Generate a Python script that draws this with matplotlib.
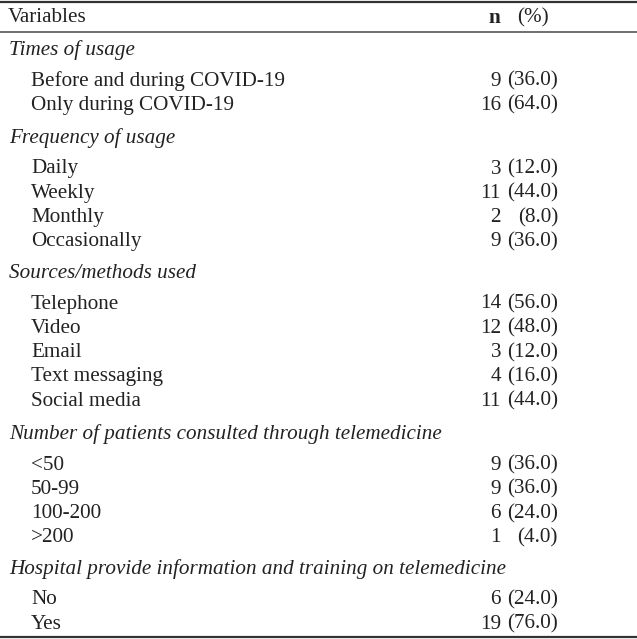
import matplotlib.pyplot as plt

# table content
sections = [
    "Times of usage",
    "Frequency of usage",
    "Sources/methods used",
    "Number of patients consulted through telemedicine",
    "Hospital provide information and training on telemedicine",
]
items = [
    ["Before and during COVID-19", "Only during COVID-19"],
    ["Daily", "Weekly", "Monthly", "Occasionally"],
    ["Telephone", "Video", "Email", "Text messaging", "Social media"],
    ["<50", "50-99", "100-200", ">200"],
    ["No", "Yes"],
]
counts = [
    [9, 16],
    [3, 11, 2, 9],
    [14, 12, 3, 4, 11],
    [9, 9, 6, 1],
    [6, 19],
]
percents = [
    [36.0, 64.0],
    [12.0, 44.0, 8.0, 36.0],
    [56.0, 48.0, 12.0, 16.0, 44.0],
    [36.0, 36.0, 24.0, 4.0],
    [24.0, 76.0],
]

W, H = 637, 639
fig = plt.figure(figsize=(W / 100, H / 100), dpi=100)
ax = fig.add_axes([0, 0, 1, 1])
ax.set_xlim(0, W)
ax.set_ylim(H, 0)
ax.axis("off")

font = "Liberation Serif"
fs = 15.2
col = "#222222"

# rules
ax.plot([0, W], [2, 2], color="#333333", lw=1.6)
ax.plot([0, W], [32, 32], color="#555555", lw=1.2)
ax.plot([0, W], [637, 637], color="#333333", lw=1.6)

# header
ax.text(8, 18, "Variables", fontsize=fs, family=font, color=col, va="center")
ax.text(500, 18, "n", fontsize=fs, family=font, color=col, va="center",
        weight="bold", ha="right")
ax.text(517, 18, "(%)", fontsize=fs, family=font, color=col, va="center")

# section starting positions and row gap
sec_y = [50, 138, 273, 434, 569]
first_gap = 31
row_gap = 24.3

for s, name in enumerate(sections):
    ax.text(9, sec_y[s], name, fontsize=fs, family=font, style="italic",
            color=col, va="center")
    for i, lab in enumerate(items[s]):
        y = sec_y[s] + first_gap + i * row_gap
        ax.text(31, y, lab, fontsize=fs, family=font, color=col, va="center")
        ax.text(501, y, str(counts[s][i]), fontsize=fs, family=font,
                color=col, va="center", ha="right")
        ax.text(558, y, "(%.1f)" % percents[s][i], fontsize=fs, family=font,
                color=col, va="center", ha="right")

fig.savefig("out.png", dpi=100)
